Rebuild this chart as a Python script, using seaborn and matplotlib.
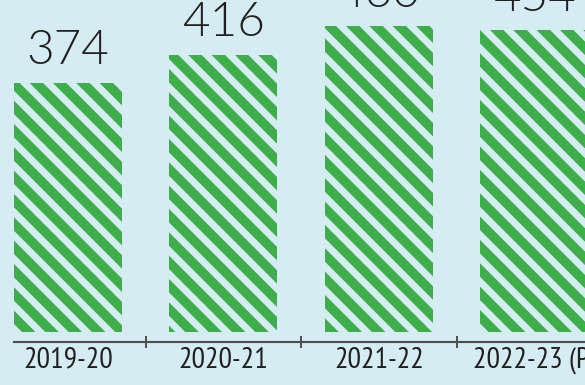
import matplotlib
matplotlib.use("Agg")
import matplotlib.pyplot as plt
import seaborn as sns
import pandas as pd

categories = ["2019-20", "2020-21", "2021-22", "2022-23 (P)"]
values = [374, 416, 460, 454]

BG = "#d5edf2"
GREEN = "#3dae4a"
TEXT = "#231f20"

sns.set_theme(style="white")
plt.rcParams["hatch.linewidth"] = 4.9

DPI = 140
fig = plt.figure(figsize=(585 / DPI, 385 / DPI), dpi=DPI, facecolor=BG)
ax = fig.add_axes([14 / 585, (385 - 342) / 385, (585 - 14) / 585, 342 / 385])
ax.set_facecolor(BG)

df = pd.DataFrame({"period": categories, "value": values})
sns.barplot(data=df, x="period", y="value", color=GREEN, width=0.695, ax=ax,
            saturation=1)
for p in ax.patches:
    p.set_facecolor(BG)
    p.set_edgecolor(GREEN)
    p.set_linewidth(0)
    p.set_hatch("\\\\")

for i, v in enumerate(values):
    ax.annotate(str(v), (i, v), xytext=(0, 9.8), textcoords="offset points",
                ha="center", va="baseline", fontsize=24.5, color=TEXT,
                family=["Lato", "DejaVu Sans"], fontweight=300,
                annotation_clip=False)

ax.set_ylim(-15, 498.5)
ax.set_xlim(-0.347, 3.325)
ax.set_xlabel("")
ax.set_ylabel("")
ax.set_yticks([])
for s in ["top", "left", "right"]:
    ax.spines[s].set_visible(False)
ax.spines["bottom"].set_color("#4d4d4d")
ax.spines["bottom"].set_linewidth(1.1)

ax.set_xticks([0.5, 1.5, 2.5], minor=True)
ax.tick_params(axis="x", which="minor", direction="inout", length=6.2,
               width=1.0, color="#4d4d4d", bottom=True)
ax.tick_params(axis="x", which="major", length=0, pad=2.5)
for lbl in ax.get_xticklabels():
    lbl.set_family(["PT Sans Narrow", "Liberation Sans", "DejaVu Sans"])
    lbl.set_fontsize(15.5)
    lbl.set_color(TEXT)

fig.savefig("out.png", dpi=DPI, facecolor=BG)
